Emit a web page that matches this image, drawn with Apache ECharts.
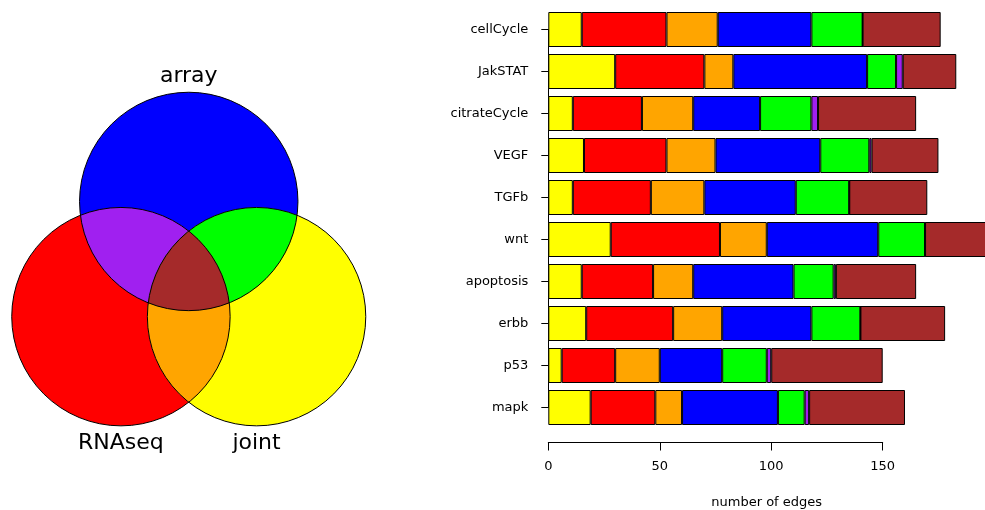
<!DOCTYPE html>
<html>
<head>
<meta charset="utf-8">
<title>Edges by pathway</title>
<script src="https://cdn.jsdelivr.net/npm/echarts@6/dist/echarts.min.js"></script>
<style>
  html, body { margin: 0; padding: 0; background: #ffffff; }
  #chart { width: 985px; height: 510px; }
</style>
</head>
<body>
<div id="chart"></div>
<script>
// Pathways, listed top to bottom
const pathways = ['cellCycle', 'JakSTAT', 'citrateCycle', 'VEGF', 'TGFb', 'wnt', 'apoptosis', 'erbb', 'p53', 'mapk'];

// Number of edges in each Venn region, per pathway
const jointOnly    = [15, 30, 11, 16, 11, 28, 15, 17,  6, 19];
const rnaseqOnly   = [38, 40, 31, 37, 35, 49, 32, 39, 24, 29];
const rnaseqJoint  = [23, 13, 23, 22, 24, 21, 18, 22, 20, 12];
const arrayOnly    = [42, 60, 30, 47, 41, 50, 45, 40, 28, 43];
const arrayJoint   = [23, 13, 23, 22, 24, 21, 18, 22, 20, 12];
const arrayRnaseq  = [ 0,  3,  3,  1,  0,  0,  1,  0,  2,  2];
const allThree     = [35, 24, 44, 30, 35, 33, 36, 38, 50, 43];

// Axis ticks for the edge counts
const edgeTicks = [0, 50, 100, 150];
const edgeAxisTitle = 'number of edges';

// Venn diagram: the three sets (circle centres and radius in diagram units)
const vennSets    = ['array', 'RNAseq', 'joint'];
const vennCenterX = [0, -0.621, 0.621];
const vennCenterY = [1.055, 0, 0];
const vennRadius  = [1, 1, 1];
// Set-name label anchors, diagram units
const vennLabelX  = [0, -0.621, 0.621];
const vennLabelY  = [2.2, -1.16, -1.16];

// Venn regions as lists of member sets, painted in this order
const vennRegions = [[0], [1], [2], [0, 1], [0, 2], [1, 2], [0, 1, 2]];

const regionColor = {
  array: '#0000FF', RNAseq: '#FF0000', joint: '#FFFF00',
  arrayRNAseq: '#A020F0', arrayJoint: '#00FF00', RNAseqJoint: '#FFA500', all: '#A52A2A'
};
const vennRegionColors = [regionColor.array, regionColor.RNAseq, regionColor.joint,
  regionColor.arrayRNAseq, regionColor.arrayJoint, regionColor.RNAseqJoint, regionColor.all];

const FONT = 'DejaVu Sans';

function circlePx(i, api) {
  const c = api.coord([vennCenterX[i], vennCenterY[i]]);
  const s = api.size([vennRadius[i], vennRadius[i]]);
  return { x: c[0], y: c[1], r: s[0] };
}

// Outline of the intersection of several circles (convex), traced by sampling each circle
function intersectionPoints(circles) {
  const pts = [];
  const N = 1440;
  circles.forEach(function (c, k) {
    for (let j = 0; j < N; j++) {
      const t = 2 * Math.PI * j / N;
      const px = c.x + c.r * Math.cos(t);
      const py = c.y + c.r * Math.sin(t);
      const inside = circles.every(function (o, m) {
        return m === k || Math.hypot(px - o.x, py - o.y) <= o.r + 1e-6;
      });
      if (inside) pts.push([px, py]);
    }
  });
  let mx = 0, my = 0;
  pts.forEach(function (p) { mx += p[0]; my += p[1]; });
  mx /= pts.length; my /= pts.length;
  pts.sort(function (a, b) {
    return Math.atan2(a[1] - my, a[0] - mx) - Math.atan2(b[1] - my, b[0] - mx);
  });
  return pts;
}

function renderRegion(params, api) {
  const members = vennRegions[params.dataIndex];
  const circles = members.map(function (i) { return circlePx(i, api); });
  const fill = vennRegionColors[params.dataIndex];
  if (circles.length === 1) {
    const c = circles[0];
    return { type: 'circle', shape: { cx: c.x, cy: c.y, r: c.r }, style: { fill: fill } };
  }
  return { type: 'polygon', shape: { points: intersectionPoints(circles) }, style: { fill: fill } };
}

function renderOutline(params, api) {
  const c = circlePx(params.dataIndex, api);
  return {
    type: 'circle', shape: { cx: c.x, cy: c.y, r: c.r },
    style: { fill: null, stroke: '#000000', lineWidth: 1 }
  };
}

function renderVennLabel(params, api) {
  const i = params.dataIndex;
  const p = api.coord([vennLabelX[i], vennLabelY[i]]);
  return {
    type: 'text', x: p[0], y: p[1],
    style: {
      text: vennSets[i], align: 'center', verticalAlign: 'middle',
      fontFamily: FONT, fontSize: 22, fill: '#000000'
    }
  };
}

const barSeries = [
  ['joint', jointOnly, regionColor.joint],
  ['RNAseq', rnaseqOnly, regionColor.RNAseq],
  ['RNAseq & joint', rnaseqJoint, regionColor.RNAseqJoint],
  ['array', arrayOnly, regionColor.array],
  ['array & joint', arrayJoint, regionColor.arrayJoint],
  ['array & RNAseq', arrayRnaseq, regionColor.arrayRNAseq],
  ['all three', allThree, regionColor.all]
].map(function (s) {
  return {
    name: s[0], type: 'bar', stack: 'edges', data: s[1],
    xAxisIndex: 0, yAxisIndex: 0, barWidth: 35, clip: false,
    itemStyle: { color: s[2], borderColor: '#000000', borderWidth: 1 },
    emphasis: { disabled: true }
  };
});

const chart = echarts.init(document.getElementById('chart'), null, { renderer: 'canvas' });
chart.setOption({
  animation: false,
  backgroundColor: '#ffffff',
  textStyle: { fontFamily: FONT },
  grid: [
    { left: 548.3, top: 29.5, width: 334.4, height: 378 },
    { left: 3.1, top: 65.5, width: 371.3, height: 393.1 }
  ],
  xAxis: [
    {
      gridIndex: 0, type: 'value', position: 'bottom', offset: 35,
      min: edgeTicks[0], max: edgeTicks[edgeTicks.length - 1], interval: 50,
      axisLine: { show: true, lineStyle: { color: '#000000', width: 1 } },
      axisTick: { show: true, length: 8, lineStyle: { color: '#000000' } },
      axisLabel: { fontSize: 13, color: '#000000', margin: 18, fontFamily: FONT },
      splitLine: { show: false }
    },
    { gridIndex: 1, type: 'value', min: -1.7, max: 1.7, show: false }
  ],
  yAxis: [
    {
      gridIndex: 0, type: 'category', data: pathways, inverse: true, boundaryGap: false, offset: 4,
      axisLine: { show: true, lineStyle: { color: '#000000', width: 1 } },
      axisTick: { show: true, length: 7, lineStyle: { color: '#000000' } },
      axisLabel: { fontSize: 13, color: '#000000', margin: 16, fontFamily: FONT },
      splitLine: { show: false }
    },
    { gridIndex: 1, type: 'value', min: -1.3, max: 2.3, show: false }
  ],
  graphic: [{
    type: 'text', x: 766.7, y: 503,
    style: { text: edgeAxisTitle, align: 'center', verticalAlign: 'middle', fontFamily: FONT, fontSize: 13, fill: '#000000' }
  }],
  series: barSeries.concat([
    {
      type: 'custom', name: 'regions', xAxisIndex: 1, yAxisIndex: 1,
      data: vennRegions.map(function () { return [0, 0]; }),
      renderItem: renderRegion, z: 2, silent: true
    },
    {
      type: 'custom', name: 'outlines', xAxisIndex: 1, yAxisIndex: 1,
      data: vennSets.map(function (s, i) { return [vennCenterX[i], vennCenterY[i]]; }),
      renderItem: renderOutline, z: 3, silent: true
    },
    {
      type: 'custom', name: 'set names', xAxisIndex: 1, yAxisIndex: 1,
      data: vennSets.map(function (s, i) { return [vennLabelX[i], vennLabelY[i]]; }),
      renderItem: renderVennLabel, z: 4, silent: true
    }
  ])
});
</script>
</body>
</html>
